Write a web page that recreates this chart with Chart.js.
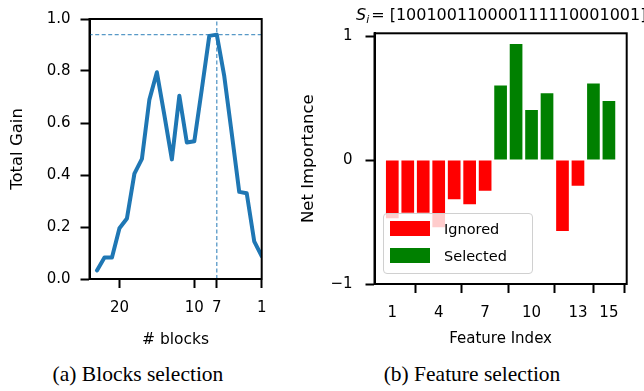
<!DOCTYPE html>
<html><head><meta charset="utf-8">
<script src="https://cdn.jsdelivr.net/npm/chart.js@4.4.1/dist/chart.umd.min.js"></script>
<style>
html,body{margin:0;padding:0;background:#fff;}
body{width:644px;height:391px;position:relative;overflow:hidden;font-family:"DejaVu Sans";color:#000;}
#c1{position:absolute;left:0;top:0;}
#c2{position:absolute;left:290px;top:0;}
.cap{position:absolute;font-family:"Liberation Serif";font-size:21.5px;line-height:21.5px;white-space:nowrap;transform:translateX(-50%);}
#title{position:absolute;top:6.5px;left:356px;font-size:16px;line-height:16px;white-space:nowrap;}
#title sub{font-size:11px;vertical-align:-3px;line-height:0;font-style:italic;}
#title .eq{margin:0 5px 0 2px;}
#legend{position:absolute;left:383px;top:213px;width:150px;height:61px;box-sizing:border-box;border:1.5px solid #d0d0d0;border-radius:4px;background:rgba(255,255,255,0.8);font-size:14.5px;}
#legend .it{position:absolute;left:6px;height:15px;display:flex;align-items:center;}
#legend .sw{width:40px;height:15px;margin-right:14px;}
</style>
</head><body>
<canvas id="c1" width="280" height="360"></canvas>
<canvas id="c2" width="354" height="360"></canvas>
<div id="title"><i>S</i><sub>i</sub><span class="eq">=</span>[<span id="sel"></span>]</div>
<div id="legend">
  <div class="it" style="top:7px"><div class="sw" style="background:#ff0000"></div><span>Ignored</span></div>
  <div class="it" style="top:34px"><div class="sw" style="background:#008000"></div><span>Selected</span></div>
</div>
<div class="cap" style="left:138px;top:364px">(a) Blocks selection</div>
<div class="cap" style="left:472px;top:364px">(b) Feature selection</div>
<script>
// ---- Left panel data ----
const blocks = [23,22,21,20,19,18,17,16,15,14,13,12,11,10,9,8,7,6,5,4,3,2,1];
const totalGain = [0.033,0.083,0.083,0.195,0.233,0.405,0.462,0.69,0.795,0.63,0.46,0.705,0.525,0.53,0.73,0.935,0.94,0.78,0.56,0.335,0.33,0.145,0.088];
const blockTicks = [20,10,7,1];
const gainTicks = [0,0.2,0.4,0.6,0.8,1.0];
const bestGain = 0.94;
const bestBlocks = 7;
const blockRange = [1,24];

// ---- Right panel data ----
const featureIndex = [1,2,3,4,5,6,7,8,9,10,11,12,13,14,15];
const netImportance = [-0.47,-0.425,-0.425,-0.543,-0.317,-0.357,-0.247,0.6,0.935,0.403,0.538,-0.573,-0.207,0.618,0.476];
const selectedMask = [0,0,0,0,0,0,0,1,1,1,1,0,0,1,1];
const featureTicks = [1,4,7,10,13,15];
const importanceTicks = [-1,0,1];
const selectionString = '100100110000111110001001';

document.getElementById('sel').textContent = selectionString;

Chart.defaults.font.family = 'DejaVu Sans';
Chart.defaults.font.size = 15;
Chart.defaults.color = '#000';

const framePlugin = {
  id: 'frame',
  afterDatasetsDraw(chart) {
    const {ctx, chartArea: a} = chart;
    ctx.save();
    ctx.strokeStyle = '#000';
    ctx.lineWidth = 2;
    ctx.strokeRect(a.left, a.top, a.right - a.left, a.bottom - a.top);
    ctx.restore();
  }
};

const tickGrid = {drawOnChartArea: false, drawTicks: true, tickLength: 9, tickWidth: 2, tickColor: '#000'};
const border = {display: true, color: '#000', width: 2};

new Chart(document.getElementById('c1'), {
  type: 'line',
  data: {
    datasets: [
      {
        data: blockRange.map(b => ({x: b, y: bestGain})),
        borderColor: 'rgba(31,119,180,0.75)', borderWidth: 1.3, borderDash: [4, 2.5],
        pointRadius: 0, fill: false
      },
      {
        data: [0, 1].map(v => ({x: bestBlocks, y: v})),
        borderColor: 'rgba(31,119,180,0.75)', borderWidth: 1.3, borderDash: [4, 2.5],
        pointRadius: 0, fill: false
      },
      {
        data: blocks.map((b, i) => ({x: b, y: totalGain[i]})),
        borderColor: '#1f77b4', borderWidth: 4, pointRadius: 0, tension: 0,
        borderJoinStyle: 'round', borderCapStyle: 'round', fill: false
      }
    ]
  },
  options: {
    responsive: false, animation: false,
    layout: {padding: {left: 0, top: 14.5, right: 18.3, bottom: 0}},
    plugins: {legend: {display: false}, tooltip: {enabled: false}},
    scales: {
      x: {
        type: 'linear', reverse: true, min: blockRange[0], max: blockRange[1],
        afterBuildTicks: s => { s.ticks = blockTicks.map(v => ({value: v})); },
        afterFit: s => { s.height = 81; },
        ticks: {autoSkip: false, maxRotation: 0, padding: 11, callback: v => String(v)},
        grid: tickGrid, border: border,
        title: {display: true, text: '# blocks', font: {size: 15.5}, padding: {top: 0, bottom: 11}}
      },
      y: {
        min: 0, max: 1,
        afterBuildTicks: s => { s.ticks = gainTicks.map(v => ({value: v})); },
        afterFit: s => { s.width = 89.5; },
        ticks: {padding: 10, callback: v => v.toFixed(1)},
        grid: tickGrid, border: border,
        title: {display: true, text: 'Total Gain', font: {size: 16.5}, padding: {top: 7.5, bottom: 0}}
      }
    }
  },
  plugins: [framePlugin]
});

const ignoredPts = featureIndex.filter((f, i) => !selectedMask[i]).map(f => ({x: f, y: netImportance[f - 1]}));
const selectedPts = featureIndex.filter((f, i) => selectedMask[i]).map(f => ({x: f, y: netImportance[f - 1]}));

new Chart(document.getElementById('c2'), {
  type: 'bar',
  data: {
    datasets: [
      {label: 'Ignored', data: ignoredPts, backgroundColor: '#ff0000', grouped: false, barPercentage: 0.82, categoryPercentage: 1},
      {label: 'Selected', data: selectedPts, backgroundColor: '#008000', grouped: false, barPercentage: 0.82, categoryPercentage: 1}
    ]
  },
  options: {
    responsive: false, animation: false,
    layout: {padding: {left: 0, top: 33.3, right: 17.3, bottom: 0}},
    plugins: {legend: {display: false}, tooltip: {enabled: false}},
    scales: {
      x: {
        type: 'linear', min: -0.15, max: 16.15, offset: false,
        afterBuildTicks: s => { s.ticks = featureTicks.map(v => ({value: v})); },
        afterFit: s => { s.height = 76; },
        ticks: {autoSkip: false, maxRotation: 0, padding: 11, callback: v => String(v)},
        grid: tickGrid, border: border,
        title: {display: true, text: 'Feature Index', padding: {top: 0, bottom: 12}}
      },
      y: {
        min: -1, max: 1.022,
        afterBuildTicks: s => { s.ticks = importanceTicks.map(v => ({value: v})); },
        afterFit: s => { s.width = 84.5; },
        ticks: {padding: 13, callback: v => v < 0 ? '\u2212' + Math.abs(v) : String(v)},
        grid: tickGrid, border: border,
        title: {display: true, text: 'Net Importance', font: {size: 16.5}, padding: {top: 9, bottom: 0}}
      }
    }
  },
  plugins: [framePlugin]
});
</script>
</body></html>
